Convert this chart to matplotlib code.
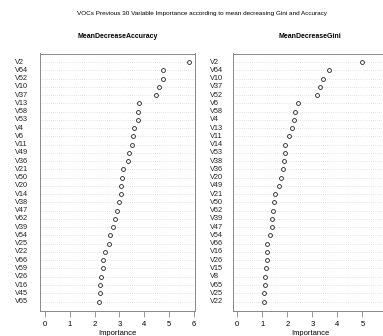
import matplotlib.pyplot as plt
from matplotlib.transforms import blended_transform_factory

plt.rcParams['font.family'] = ['Liberation Sans', 'DejaVu Sans']

acc_vars = ['V2', 'V64', 'V52', 'V10', 'V37', 'V13', 'V58', 'V53', 'V4', 'V6',
            'V11', 'V49', 'V36', 'V21', 'V50', 'V20', 'V14', 'V38', 'V47', 'V62',
            'V39', 'V54', 'V25', 'V22', 'V66', 'V59', 'V26', 'V16', 'V45', 'V65']
acc_vals = [5.82, 4.78, 4.76, 4.62, 4.48, 3.78, 3.75, 3.75, 3.60, 3.55,
            3.52, 3.39, 3.35, 3.15, 3.12, 3.08, 3.08, 3.00, 2.92, 2.81,
            2.74, 2.62, 2.57, 2.42, 2.35, 2.34, 2.24, 2.23, 2.20, 2.17]

gini_vars = ['V2', 'V64', 'V10', 'V37', 'V52', 'V6', 'V58', 'V4', 'V13', 'V11',
             'V14', 'V53', 'V38', 'V36', 'V20', 'V49', 'V21', 'V50', 'V62', 'V39',
             'V47', 'V54', 'V66', 'V16', 'V26', 'V15', 'V8', 'V65', 'V25', 'V22']
gini_vals = [5.00, 3.68, 3.41, 3.32, 3.20, 2.44, 2.31, 2.27, 2.21, 2.07,
             1.92, 1.91, 1.89, 1.82, 1.75, 1.69, 1.51, 1.49, 1.44, 1.41,
             1.41, 1.32, 1.19, 1.19, 1.19, 1.16, 1.12, 1.10, 1.09, 1.08]

W, H = 383, 336
fig = plt.figure(figsize=(W / 100, H / 100), dpi=100)

def panel(x0, x1, xlim, names, vals, title, label_x):
    top, bot = 53.5, 311.0
    ax = fig.add_axes([x0 / W, (H - bot) / H, (x1 - x0) / W, (bot - top) / H])
    n = len(names)
    ypos = list(range(n, 0, -1))
    for y in ypos:
        ax.axhline(y, color='#c8c8c8', lw=0.5, ls=(0, (1, 2)), zorder=1)
    ax.plot(vals, ypos, 'o', mfc='none', mec='#222222', ms=2.8, mew=0.6, zorder=3)
    ax.set_xlim(*xlim)
    ax.set_ylim(-0.15, n + 1.05)
    ax.set_yticks([])
    ax.set_xticks(range(0, 7))
    ax.tick_params(axis='x', length=4, width=0.6, color='#888888',
                   labelsize=5.5, pad=3)
    for s in ax.spines.values():
        s.set_color('#888888')
        s.set_linewidth(0.7)
    ax.set_xlabel('Importance', fontsize=5.5, labelpad=1.5)
    ax.set_title(title, fontsize=5.0, fontweight='bold', pad=11)
    tr = blended_transform_factory(fig.transFigure, ax.transData)
    for name, y in zip(names, ypos):
        ax.text(label_x / W, y, name, transform=tr, ha='left', va='center',
                fontsize=5.3, color='#222222')
    return ax

panel(40, 195, (-0.215, 6.06), acc_vars, acc_vals, 'MeanDecreaseAccuracy', 15)
panel(232.7, 387.5, (-0.174, 5.22), gini_vars, gini_vals, 'MeanDecreaseGini', 210)

fig.text(201.7 / W, 1 - 13.7 / H,
         'VOCs Previous 30 Variable Importance according to mean decreasing Gini and Accuracy',
         ha='center', va='center', fontsize=4.6)

fig.savefig('out.png', dpi=100)
